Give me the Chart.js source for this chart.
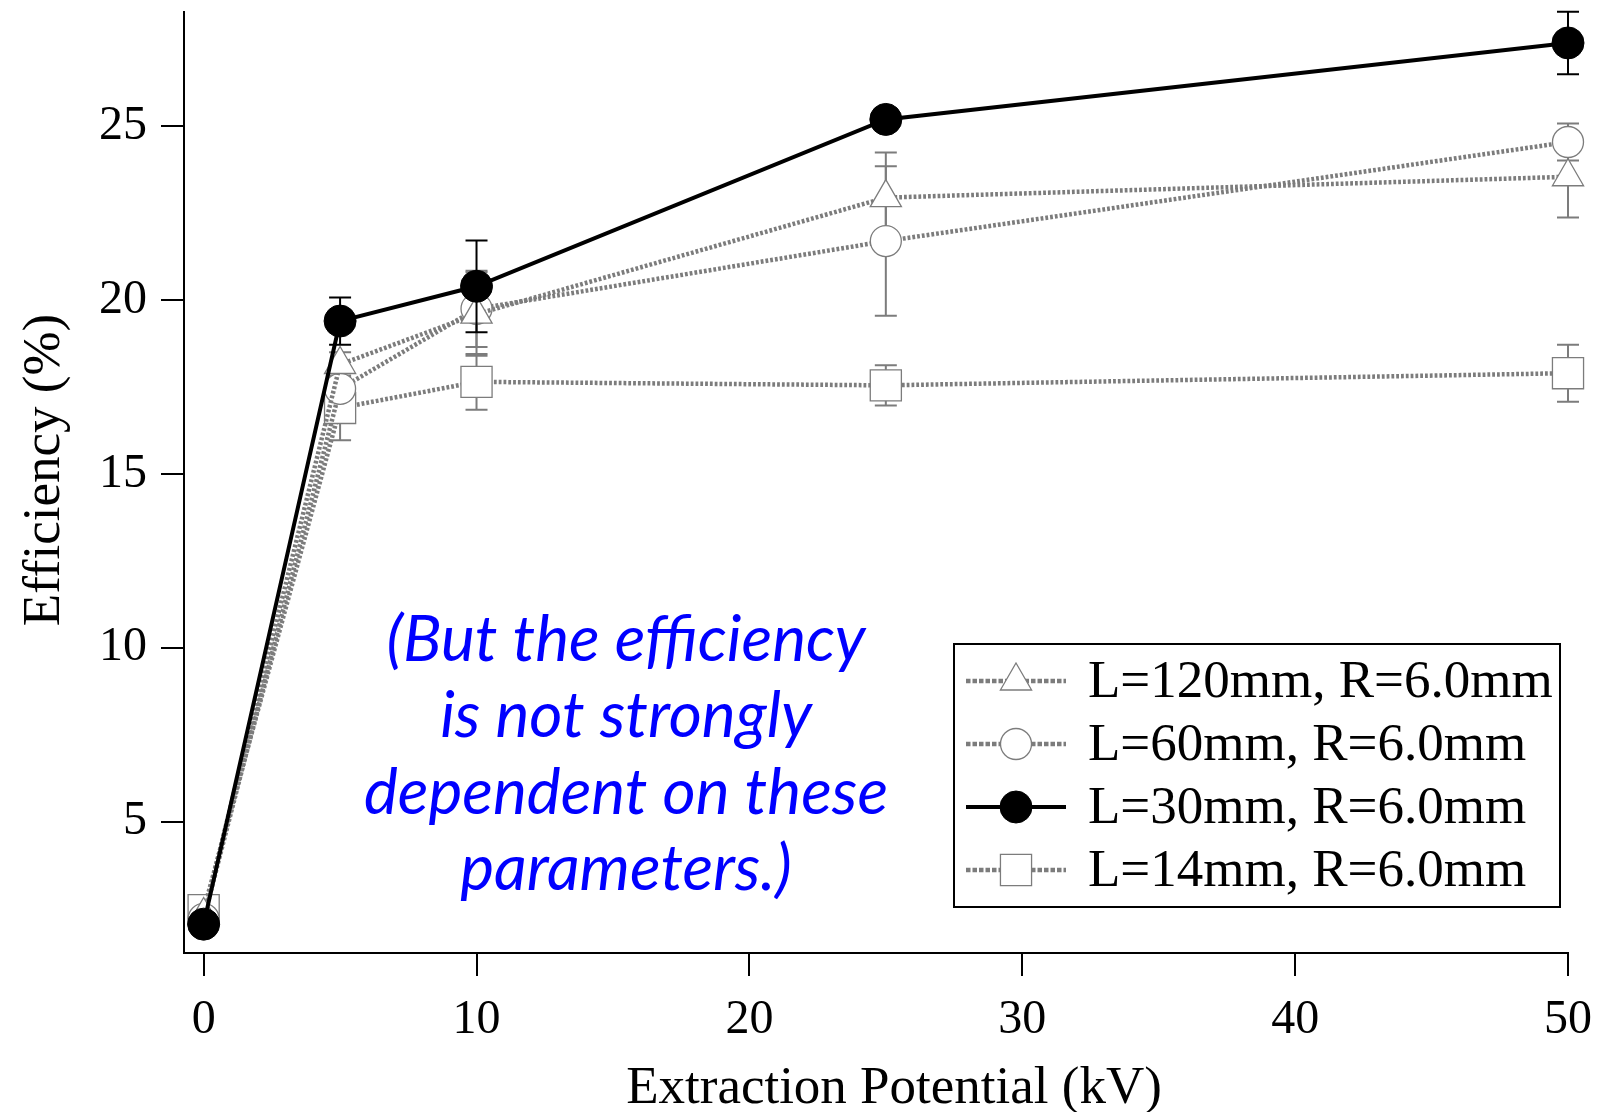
<!DOCTYPE html>
<html>
<head>
<meta charset="utf-8">
<script src="https://cdn.jsdelivr.net/npm/chart.js@4.4.1/dist/chart.umd.min.js"></script>
<style>
body { margin: 0; background: #fff; }
canvas { display: block; }
</style>
</head>
<body>
<canvas id="chart" width="1602" height="1112"></canvas>
<script>
// extraction potential (kV)
const potential = [0, 5, 10, 25, 50];

// efficiency (%) and error for each tube length
const eff120 = [2.3, 18.15, 19.6, 22.95, 23.55];
const err120 = [0, 0.35, 1.2, 1.3, 1.17];
const eff60 = [2.2, 17.45, 19.75, 21.7, 24.55];
const err60 = [0, 0.5, 1.1, 2.15, 0.53];
const eff30 = [2.05, 19.4, 20.4, 25.2, 27.4];
const err30 = [0, 0.68, 1.32, 0.3, 0.9];
const eff14 = [2.45, 16.9, 17.65, 17.55, 17.9];
const err14 = [0, 0.93, 0.8, 0.58, 0.82];

const names = ['L=120mm, R=6.0mm', 'L=60mm, R=6.0mm', 'L=30mm, R=6.0mm', 'L=14mm, R=6.0mm'];

// tick labels
const xTicks = [0, 10, 20, 30, 40, 50];
const yTicks = [5, 10, 15, 20, 25];

// axis titles and the blue note in the plot
const xTitle = 'Extraction Potential (kV)';
const yTitle = 'Efficiency (%)';
const note = ['(But the efficiency', 'is not strongly', 'dependent on these', 'parameters.)'];

const grey = '#7c7c7c';

//build a dataset from the arrays
function series(name, vals, errs, style, radius, solid){
    return {
        label: name,
        data: potential.map((x, i) => ({x: x, y: vals[i]})),
        errors: errs,
        borderColor: solid ? '#000' : grey,
        borderWidth: solid ? 4 : 4.5,
        borderDash: solid ? [] : [2.8, 2],
        pointStyle: style,
        pointRadius: radius,
        pointBackgroundColor: solid ? '#000' : '#fff',
        pointBorderColor: solid ? '#000' : grey,
        pointBorderWidth: solid ? 1 : 1.3,
        order: solid ? 0 : 1,
        clip: false,
        tension: 0
    };
}

const datasets = [
    series(names[0], eff120, err120, 'triangle', 18, false),
    series(names[1], eff60, err60, 'circle', 15.5, false),
    series(names[2], eff30, err30, 'circle', 16, true),
    series(names[3], eff14, err14, 'rect', 22, false)
];

//vertical error bars with caps
function drawErrors(chart, solid){
    let ctx = chart.ctx;
    let xs = chart.scales.x;
    let ys = chart.scales.y;
    ctx.save();
    chart.data.datasets.forEach(ds => {
        if ((ds.borderDash.length == 0) != solid) return;
        ctx.strokeStyle = ds.borderColor;
        ctx.lineWidth = 2;
        ds.data.forEach((p, i) => {
            let e = ds.errors[i];
            if (!e) return;
            let x = xs.getPixelForValue(p.x);
            let top = ys.getPixelForValue(p.y + e);
            let bot = ys.getPixelForValue(p.y - e);
            ctx.beginPath();
            ctx.moveTo(x, top); ctx.lineTo(x, bot);
            ctx.moveTo(x - 11, top); ctx.lineTo(x + 11, top);
            ctx.moveTo(x - 11, bot); ctx.lineTo(x + 11, bot);
            ctx.stroke();
        });
    });
    ctx.restore();
}

const errorBars = {
    id: 'errorBars',
    beforeDatasetsDraw(chart){ drawErrors(chart, false); },
    afterDatasetsDraw(chart){ drawErrors(chart, true); }
};

//axis titles, legend box and the blue note
const extras = {
    id: 'extras',
    afterDraw(chart){
        let ctx = chart.ctx;
        ctx.save();

        // axis titles
        ctx.fillStyle = '#000';
        ctx.font = '53px "Liberation Serif"';
        ctx.textAlign = 'center';
        ctx.textBaseline = 'alphabetic';
        ctx.fillText(xTitle, 894, 1103);
        ctx.save();
        ctx.translate(59, 470);
        ctx.rotate(-Math.PI / 2);
        ctx.fillText(yTitle, 0, 0);
        ctx.restore();

        // note
        ctx.fillStyle = '#0000ff';
        ctx.font = 'italic 64px Lato';
        ctx.textBaseline = 'middle';
        note.forEach((t, i) => ctx.fillText(t, 626, 640 + i * 76.5));

        // legend
        ctx.fillStyle = '#fff';
        ctx.fillRect(954, 644, 606, 263);
        ctx.strokeStyle = '#000';
        ctx.lineWidth = 2;
        ctx.strokeRect(954, 644, 606, 263);

        let rowY = [681, 744, 807, 870];
        chart.data.datasets.forEach((ds, i) => {
            let y = rowY[i];
            ctx.strokeStyle = ds.borderColor;
            ctx.lineWidth = ds.borderWidth;
            ctx.setLineDash(ds.borderDash.length ? [4.5, 2] : []);
            ctx.beginPath();
            ctx.moveTo(966, y); ctx.lineTo(1066, y);
            ctx.stroke();
            ctx.setLineDash([]);
            ctx.fillStyle = ds.pointBackgroundColor;
            ctx.strokeStyle = ds.pointBorderColor;
            ctx.lineWidth = ds.pointBorderWidth;
            Chart.helpers.drawPoint(ctx, {pointStyle: ds.pointStyle, radius: ds.pointRadius, rotation: 0, borderWidth: ds.pointBorderWidth}, 1016, y);
            ctx.fillStyle = '#000';
            ctx.font = '53px "Liberation Serif"';
            ctx.textAlign = 'left';
            ctx.textBaseline = 'middle';
            ctx.fillText(ds.label, 1088, y + 2);
        });
        ctx.restore();
    }
};

const axisGrid = {
    drawOnChartArea: false,
    drawTicks: true,
    tickLength: 23,
    tickWidth: 2,
    tickColor: '#000',
    color: '#000',
    lineWidth: 2
};

let ctx = document.getElementById('chart').getContext('2d');
let myChart = new Chart(ctx, {
    type: 'line',
    data: { datasets: datasets },
    plugins: [errorBars, extras],
    options: {
        responsive: false,
        animation: false,
        layout: { autoPadding: false, padding: { left: 0, right: 34, top: 12, bottom: 0 } },
        plugins: { legend: { display: false }, tooltip: { enabled: false } },
        scales: {
            x: {
                type: 'linear',
                min: -0.72,
                max: 50,
                border: { color: '#000', width: 2 },
                grid: axisGrid,
                afterBuildTicks(s){ s.ticks = xTicks.map(v => ({value: v})); },
                afterFit(s){ s.height = 159; s.paddingLeft = 0; s.paddingRight = 0; },
                ticks: {
                    color: '#000',
                    font: { family: 'Liberation Serif', size: 48 },
                    padding: 16,
                    maxRotation: 0,
                    autoSkip: false
                }
            },
            y: {
                type: 'linear',
                min: 1.22,
                max: 28.29,
                border: { color: '#000', width: 2 },
                grid: axisGrid,
                afterBuildTicks(s){ s.ticks = yTicks.map(v => ({value: v})); },
                afterFit(s){ s.width = 184; s.paddingTop = 0; s.paddingBottom = 0; },
                ticks: {
                    color: '#000',
                    font: { family: 'Liberation Serif', size: 48 },
                    padding: 14
                }
            }
        }
    }
});
</script>
</body>
</html>
